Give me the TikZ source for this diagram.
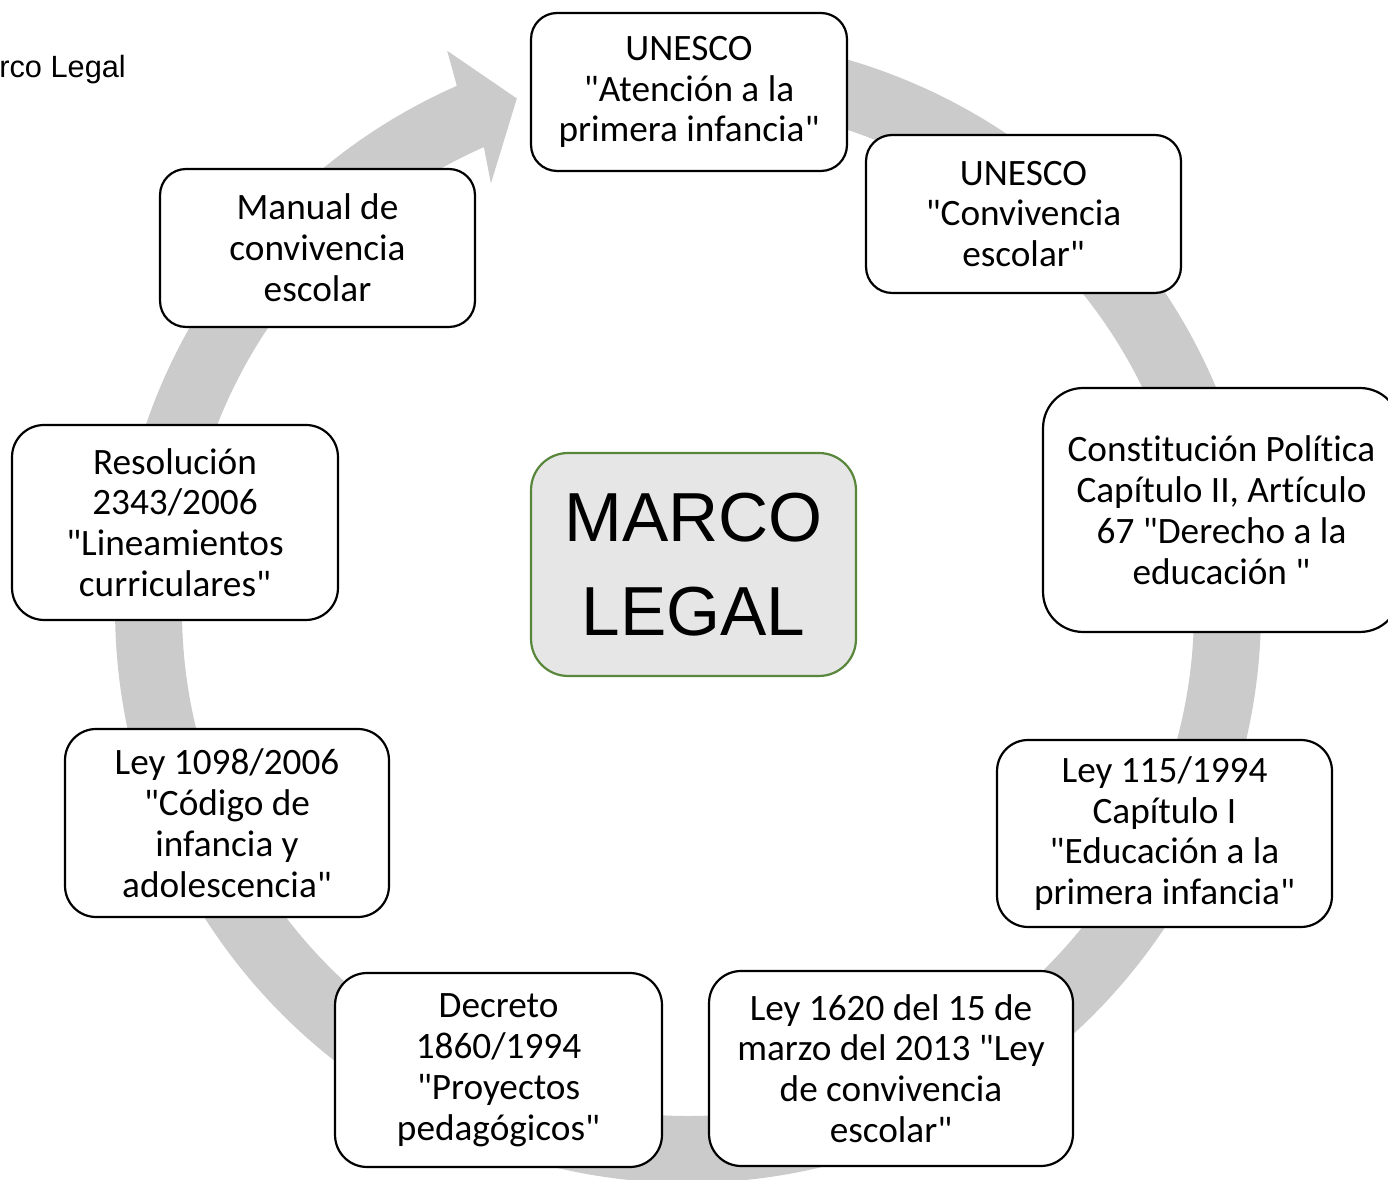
\documentclass[tikz,border=0pt]{standalone}
\usepackage{fontspec}
\setmainfont{Carlito}[Ligatures={TeXOff,CommonOff}]
\newfontfamily\arialf{Liberation Sans}
\usetikzlibrary{calc}
\definecolor{ringgray}{RGB}{203,203,203}
\definecolor{centerfill}{RGB}{230,230,230}
\definecolor{centergreen}{RGB}{88,134,58}
\tikzset{
  itembox/.style={draw=black, line width=1.25pt, fill=white, align=center,
    inner sep=0pt, font=\fontsize{21.2pt}{23.25pt}\selectfont},
  centerbox/.style={draw=centergreen, line width=1.25pt, fill=centerfill, align=center,
    inner sep=0pt, font=\arialf\fontsize{39.5pt}{53.3pt}\selectfont},
}
\begin{document}
\begin{tikzpicture}[x=0.02cm,y=0.02cm]
\useasboundingbox (0,0) rectangle (1388,1179);
% circular arrow (1px = 0.02cm)
\coordinate (c) at (688,569);
\fill[ringgray] ($(c)+(100:11.46cm)$) arc[start angle=100,end angle=-246.2,radius=11.46cm]
  -- ($(c)+(113.3:12.18cm)$) -- ($(c)+(108.5:10.79cm)$) -- ($(c)+(114.8:9.40cm)$)
  -- ($(c)+(113.8:10.12cm)$) arc[start angle=-246.2,end angle=100,radius=10.12cm] -- cycle;
% title fragment
\node[anchor=base west, inner sep=0pt, font=\arialf\fontsize{17.5pt}{21pt}\selectfont] (title) at (-1,1101) {rco Legal};
% boxes
\node[itembox, minimum width=6.32cm, minimum height=3.16cm, rounded corners=0.52cm] (b1) at (689,1087)
  {UNESCO\\"Atención a la\\primera infancia"};
\node[itembox, minimum width=6.30cm, minimum height=3.16cm, rounded corners=0.52cm] (b2) at (1023.5,965)
  {UNESCO\\"Convivencia\\escolar"};
\node[itembox, minimum width=7.14cm, minimum height=4.88cm, rounded corners=0.80cm] (b3) at (1221.5,669)
  {Constitución Política\\Capítulo II, Artículo\\67 "Derecho a la\\educación "};
\node[itembox, minimum width=6.70cm, minimum height=3.74cm, rounded corners=0.62cm] (b4) at (1164.5,345.5)
  {Ley 115/1994\\Capítulo I\\"Educación a la\\primera infancia"};
\node[itembox, minimum width=7.28cm, minimum height=3.90cm, rounded corners=0.64cm] (b5) at (891,110.5)
  {Ley 1620 del 15 de\\marzo del 2013 "Ley\\de convivencia\\escolar"};
\node[itembox, minimum width=6.54cm, minimum height=3.88cm, rounded corners=0.64cm] (b6) at (498.5,109)
  {Decreto\\1860/1994\\"Proyectos\\pedagógicos"};
\node[itembox, minimum width=6.48cm, minimum height=3.76cm, rounded corners=0.62cm] (b7) at (227,356)
  {Ley 1098/2006\\"Código de\\infancia y\\adolescencia"};
\node[itembox, minimum width=6.52cm, minimum height=3.90cm, rounded corners=0.64cm] (b8) at (175,656.5)
  {Resolución\\2343/2006\\"Lineamientos\\curriculares"};
\node[itembox, minimum width=6.30cm, minimum height=3.16cm, rounded corners=0.52cm] (b9) at (317.5,931)
  {Manual de\\convivencia\\escolar};
\node[centerbox, minimum width=6.50cm, minimum height=4.46cm, rounded corners=0.74cm] (center) at (693.5,614.5)
  {MARCO\\LEGAL};
\end{tikzpicture}
\end{document}
